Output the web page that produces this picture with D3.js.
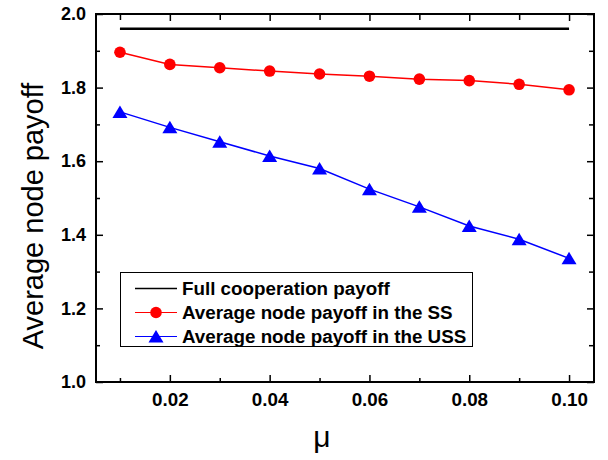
<!DOCTYPE html>
<html>
<head>
<meta charset="utf-8">
<script src="https://cdn.jsdelivr.net/npm/d3@7"></script>
<style>
  body { margin: 0; background: #fff; }
  text { font-family: "Liberation Sans", Arial, sans-serif; }
</style>
</head>
<body>
<script>
const width = 608,
      height = 460

// values
const mu = [0.01, 0.02, 0.03, 0.04, 0.05, 0.06, 0.07, 0.08, 0.09, 0.10]
const fullCoop = [1.96, 1.96, 1.96, 1.96, 1.96, 1.96, 1.96, 1.96, 1.96, 1.96]
const ssPayoff = [1.896, 1.863, 1.854, 1.845, 1.837, 1.831, 1.823, 1.819, 1.809, 1.794]
const ussPayoff = [1.734, 1.692, 1.653, 1.614, 1.580, 1.524, 1.476, 1.424, 1.388, 1.336]
const xTicks = [0.01, 0.02, 0.03, 0.04, 0.05, 0.06, 0.07, 0.08, 0.09, 0.10]
const xMajor = [0.02, 0.04, 0.06, 0.08, 0.10]
const yTicks = [1.0, 1.1, 1.2, 1.3, 1.4, 1.5, 1.6, 1.7, 1.8, 1.9, 2.0]
const yMajor = [1.0, 1.2, 1.4, 1.6, 1.8, 2.0]
const legendNames = ['Full cooperation payoff', 'Average node payoff in the SS', 'Average node payoff in the USS']

const pLeft = 96, pRight = 594, pTop = 14, pBottom = 382

const x = d3.scaleLinear().domain([0.0052, 0.105]).range([pLeft, pRight])
const y = d3.scaleLinear().domain([1.0, 2.0]).range([pBottom, pTop])

const svg = d3.select('body').append('svg')
    .attr('width', width)
    .attr('height', height)

const isMajor = (list, v) => list.some(m => Math.abs(m - v) < 1e-9)

// bottom axis
const xAxis = svg.append('g')
    .attr('transform', `translate(0,${pBottom})`)
    .call(d3.axisBottom(x).tickValues(xTicks).tickSizeOuter(0).tickSizeInner(-7)
        .tickFormat(d => isMajor(xMajor, d) ? d3.format('.2f')(d) : ''))
xAxis.select('.domain').remove()
xAxis.selectAll('.tick line')
    .attr('y2', d => isMajor(xMajor, d) ? -7 : -4)
    .attr('stroke-width', 1.5)
xAxis.selectAll('.tick text')
    .attr('y', 11)
    .attr('dy', '0.71em')
    .style('font-size', '18.8px')
    .style('font-weight', 'bold')
    .attr('fill', '#000')

// top axis (ticks only)
const xTop = svg.append('g')
    .attr('transform', `translate(0,${pTop})`)
    .call(d3.axisTop(x).tickValues(xTicks).tickSizeOuter(0).tickFormat(''))
xTop.select('.domain').remove()
xTop.selectAll('.tick line')
    .attr('y2', d => isMajor(xMajor, d) ? 7 : 6)
    .attr('stroke-width', 1.5)

// left axis
const yAxis = svg.append('g')
    .attr('transform', `translate(${pLeft},0)`)
    .call(d3.axisLeft(y).tickValues(yTicks).tickSizeOuter(0)
        .tickFormat(d => isMajor(yMajor, d) ? d3.format('.1f')(d) : ''))
yAxis.select('.domain').remove()
yAxis.selectAll('.tick line')
    .attr('x2', d => isMajor(yMajor, d) ? 7 : 4)
    .attr('stroke-width', 1.5)
yAxis.selectAll('.tick text')
    .attr('x', -10)
    .style('font-size', '18px')
    .style('font-weight', 'bold')
    .attr('fill', '#000')

// right axis (ticks only)
const yRight = svg.append('g')
    .attr('transform', `translate(${pRight},0)`)
    .call(d3.axisRight(y).tickValues(yTicks).tickSizeOuter(0).tickFormat(''))
yRight.select('.domain').remove()
yRight.selectAll('.tick line')
    .attr('x2', d => isMajor(yMajor, d) ? -7 : -5)
    .attr('stroke-width', 1.5)

// frame
svg.append('rect')
    .attr('x', pLeft)
    .attr('y', pTop)
    .attr('width', pRight - pLeft)
    .attr('height', pBottom - pTop)
    .attr('fill', 'none')
    .attr('stroke', '#000')
    .attr('stroke-width', 2)

const line = d3.line()
    .x(d => x(d[0]))
    .y(d => y(d[1]))

// full cooperation
svg.append('path')
    .datum(mu.map((m, i) => [m, fullCoop[i]]))
    .attr('d', line)
    .attr('fill', 'none')
    .attr('stroke', '#000')
    .attr('stroke-width', 2.5)

// SS
svg.append('path')
    .datum(mu.map((m, i) => [m, ssPayoff[i]]))
    .attr('d', line)
    .attr('fill', 'none')
    .attr('stroke', '#ff0000')
    .attr('stroke-width', 1.5)

svg.selectAll('.ss-dot')
    .data(mu.map((m, i) => [m, ssPayoff[i]]))
    .enter()
    .append('circle')
        .attr('class', 'ss-dot')
        .attr('cx', d => x(d[0]))
        .attr('cy', d => y(d[1]))
        .attr('r', 5.8)
        .attr('fill', '#ff0000')

// USS
svg.append('path')
    .datum(mu.map((m, i) => [m, ussPayoff[i]]))
    .attr('d', line)
    .attr('fill', 'none')
    .attr('stroke', '#0000ff')
    .attr('stroke-width', 1.5)

const tri = 'M0,-6.5L7.5,6L-7.5,6Z'

svg.selectAll('.uss-tri')
    .data(mu.map((m, i) => [m, ussPayoff[i]]))
    .enter()
    .append('path')
        .attr('class', 'uss-tri')
        .attr('d', tri)
        .attr('transform', d => `translate(${x(d[0])},${y(d[1])})`)
        .attr('fill', '#0000ff')

// legend
const legend = svg.append('g')

legend.append('rect')
    .attr('x', 120.5)
    .attr('y', 272.5)
    .attr('width', 352)
    .attr('height', 74)
    .attr('fill', '#fff')
    .attr('stroke', '#000')
    .attr('stroke-width', 1)

const legColors = ['#000', '#ff0000', '#0000ff']
legendNames.forEach((name, i) => {
    const cy = 288.5 + i * 24
    legend.append('line')
        .attr('x1', 135)
        .attr('x2', 177)
        .attr('y1', cy)
        .attr('y2', cy)
        .attr('stroke', legColors[i])
        .attr('stroke-width', i == 0 ? 1.5 : 1.2)
    if (i == 1) {
        legend.append('circle')
            .attr('cx', 156)
            .attr('cy', cy)
            .attr('r', 5.8)
            .attr('fill', legColors[i])
    }
    if (i == 2) {
        legend.append('path')
            .attr('d', tri)
            .attr('transform', `translate(156,${cy})`)
            .attr('fill', legColors[i])
    }
    legend.append('text')
        .attr('x', 182)
        .attr('y', cy + 6.5)
        .text(name)
        .style('font-size', '18.8px')
        .style('font-weight', 'bold')
        .attr('fill', '#000')
})

// axis titles
svg.append('text')
    .attr('transform', 'translate(43,216) rotate(-90)')
    .attr('text-anchor', 'middle')
    .style('font-size', '29px')
    .text('Average node payoff')

svg.append('text')
    .attr('x', 322)
    .attr('y', 447)
    .attr('text-anchor', 'middle')
    .style('font-size', '30px')
    .text('μ')
</script>
</body>
</html>
